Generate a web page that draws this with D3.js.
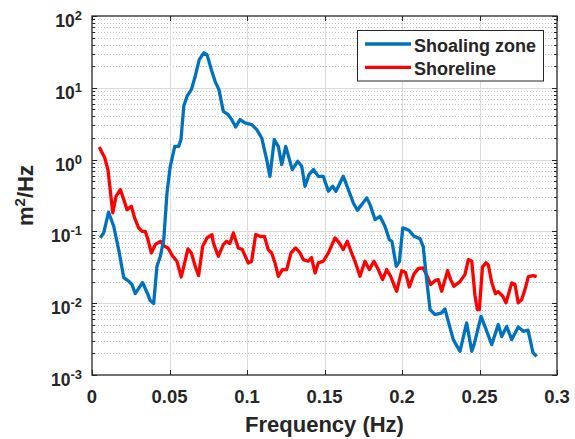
<!DOCTYPE html>
<html lang="en">
<head>
    <meta charset="UTF-8"/>
    <title>Spectra</title>
    <style>
        body { margin: 0; background: #fff; }
        text { font-family: "Liberation Sans", Arial, sans-serif; font-weight: bold; fill: #262626; }
    </style>
</head>
<body>
<svg id="chart" width="575" height="439"></svg>

<script src="https://cdn.jsdelivr.net/npm/d3@7"></script>
<script type="text/javascript">

    // spectra (Hz, m^2/Hz)
    var shoalFreq = [0.0054, 0.0076, 0.0107, 0.0140, 0.0172, 0.0205, 0.0237, 0.0258, 0.0279, 0.0326,
        0.0355, 0.0376, 0.0398, 0.0419, 0.0441, 0.0463, 0.0484, 0.0505, 0.0534, 0.0559,
        0.0574, 0.0592, 0.0613, 0.0641, 0.0666, 0.0692, 0.0721, 0.0742, 0.0770, 0.0794,
        0.0819, 0.0847, 0.0879, 0.0901, 0.0927, 0.0955, 0.0987, 0.1030, 0.1063, 0.1095,
        0.1127, 0.1148, 0.1176, 0.1202, 0.1224, 0.1250, 0.1292, 0.1327, 0.1353, 0.1374,
        0.1400, 0.1428, 0.1460, 0.1492, 0.1525, 0.1553, 0.1574, 0.1621, 0.1654, 0.1686,
        0.1712, 0.1740, 0.1772, 0.1794, 0.1826, 0.1858, 0.1890, 0.1918, 0.1935, 0.1963,
        0.1983, 0.2005, 0.2045, 0.2077, 0.2116, 0.2137, 0.2159, 0.2181, 0.2213, 0.2256,
        0.2277, 0.2299, 0.2331, 0.2374, 0.2417, 0.2450, 0.2465, 0.2510, 0.2535, 0.2579,
        0.2621, 0.2643, 0.2675, 0.2708, 0.2750, 0.2783, 0.2813, 0.2845, 0.2869];
    var shoalPsd = [0.081, 0.096, 0.185, 0.118, 0.0558, 0.0227, 0.0202, 0.0182, 0.0136, 0.0194,
        0.0141, 0.0109, 0.0099, 0.0327, 0.045, 0.0769, 0.347, 0.807, 1.53, 1.53,
        1.90, 5.52, 7.62, 9.44, 14.5, 24.7, 30.6, 29.0, 17.9, 12.3,
        9.44, 4.71, 4.24, 3.61, 2.85, 3.61, 3.24, 3.07, 2.62, 2.00,
        1.00, 0.585, 1.90, 1.53, 0.852, 1.53, 0.726, 0.947, 0.807, 0.425,
        0.618, 0.726, 0.585, 0.585, 0.362, 0.425, 0.362, 0.585, 0.382, 0.249,
        0.197, 0.236, 0.293, 0.236, 0.146, 0.162, 0.118, 0.0769, 0.0728, 0.0327,
        0.0380, 0.112, 0.104, 0.0855, 0.0794, 0.0614, 0.0213, 0.00815, 0.00694, 0.00733,
        0.00833, 0.00554, 0.00311, 0.00214, 0.00532, 0.00214, 0.00265, 0.00656, 0.00476, 0.00265,
        0.00504, 0.00343, 0.00476, 0.00311, 0.00468, 0.00406, 0.00422, 0.00205, 0.00182];

    var shoreFreq = [0.0047, 0.0082, 0.0103, 0.0134, 0.0155, 0.0183, 0.0205, 0.0226, 0.0254, 0.0275,
        0.0301, 0.0323, 0.0344, 0.0361, 0.0383, 0.0408, 0.0441, 0.0469, 0.0490, 0.0521,
        0.0548, 0.0576, 0.0619, 0.0641, 0.0666, 0.0688, 0.0714, 0.0742, 0.0774, 0.0783,
        0.0815, 0.0847, 0.0869, 0.0890, 0.0912, 0.0944, 0.0970, 0.1008, 0.1030, 0.1056,
        0.1084, 0.1112, 0.1137, 0.1159, 0.1181, 0.1202, 0.1228, 0.1256, 0.1284, 0.1314,
        0.1342, 0.1363, 0.1395, 0.1416, 0.1439, 0.1460, 0.1492, 0.1525, 0.1568, 0.1595,
        0.1621, 0.1647, 0.1675, 0.1697, 0.1729, 0.1761, 0.1789, 0.1819, 0.1847, 0.1875,
        0.1901, 0.1927, 0.1955, 0.1966, 0.1998, 0.2023, 0.2047, 0.2077, 0.2105, 0.2137,
        0.2163, 0.2185, 0.2213, 0.2234, 0.2256, 0.2294, 0.2314, 0.2335, 0.2374, 0.2406,
        0.2428, 0.2450, 0.2471, 0.2486, 0.2499, 0.2519, 0.2542, 0.2557, 0.2579, 0.2603,
        0.2621, 0.2650, 0.2671, 0.2708, 0.2729, 0.2750, 0.2772, 0.2797, 0.2815, 0.2847,
        0.2869];
    var shorePsd = [1.50, 1.06, 0.726, 0.181, 0.308, 0.382, 0.277, 0.201, 0.224, 0.154,
        0.112, 0.100, 0.100, 0.0769, 0.0501, 0.0655, 0.0728, 0.0620, 0.0589, 0.0450,
        0.0384, 0.0232, 0.0570, 0.0501, 0.0327, 0.0242, 0.0620, 0.0811, 0.0902, 0.0692,
        0.0450, 0.0655, 0.0728, 0.0676, 0.0953, 0.0589, 0.0558, 0.0364, 0.0384, 0.0902,
        0.0855, 0.0855, 0.0558, 0.0501, 0.0364, 0.0237, 0.0294, 0.0294, 0.0501, 0.0589,
        0.0501, 0.0405, 0.0384, 0.0432, 0.0264, 0.0364, 0.0384, 0.0501, 0.0811, 0.0692,
        0.0558, 0.0728, 0.0501, 0.0380, 0.0237, 0.0384, 0.0294, 0.0384, 0.0294, 0.0213,
        0.0294, 0.0237, 0.0165, 0.0147, 0.0284, 0.0267, 0.0168, 0.0254, 0.0303, 0.0310,
        0.0237, 0.0182, 0.0206, 0.0213, 0.0147, 0.0284, 0.0213, 0.0172, 0.0200, 0.0250,
        0.0405, 0.0384, 0.0128, 0.00815, 0.00815, 0.0318, 0.0367, 0.0340, 0.0194, 0.0136,
        0.0145, 0.0125, 0.0101, 0.0192, 0.0182, 0.0101, 0.0112, 0.0165, 0.0235, 0.0242,
        0.0235];

    var xTicks = [0, 0.05, 0.1, 0.15, 0.2, 0.25, 0.3];
    var xTickLabels = ["0", "0.05", "0.1", "0.15", "0.2", "0.25", "0.3"];
    var yExponents = [-3, -2, -1, 0, 1, 2];
    var seriesNames = ["Shoaling zone", "Shoreline"];
    var seriesColors = ["#0072BD", "#FF0000"];

    let svg = d3.select("#chart"),
        pLeft = 92, pRight = 557, pTop = 16, pBottom = 375;

    let x = d3.scaleLinear().domain([0, 0.3]).range([pLeft, pRight]);
    let y = d3.scaleLog().domain([1e-3, 1e2]).range([pBottom, pTop]);

    // minor decades 2..9
    var minor = [];
    yExponents.slice(0, -1).forEach(function (e) {
        for (var k = 2; k <= 9; k++) minor.push(k * Math.pow(10, e));
    });

    var grid = svg.append("g");
    grid.selectAll(".minor").data(minor).enter().append("line")
        .attr("x1", pLeft).attr("x2", pRight)
        .attr("y1", d => Math.round(y(d)) + 0.5).attr("y2", d => Math.round(y(d)) + 0.5)
        .style("stroke", "#c4c4c4").style("stroke-dasharray", "1,2");
    grid.selectAll(".hmaj").data(yExponents.slice(1, -1)).enter().append("line")
        .attr("x1", pLeft).attr("x2", pRight)
        .attr("y1", d => Math.round(y(Math.pow(10, d))) + 0.5).attr("y2", d => Math.round(y(Math.pow(10, d))) + 0.5)
        .style("stroke", "#dcdcdc");
    grid.selectAll(".vmaj").data(xTicks.slice(1, -1)).enter().append("line")
        .attr("x1", d => Math.round(x(d)) + 0.5).attr("x2", d => Math.round(x(d)) + 0.5)
        .attr("y1", pTop).attr("y2", pBottom)
        .style("stroke", "#dcdcdc");

    // curves, shoreline first so the blue sits on top
    var line = d3.line().x(d => x(d[0])).y(d => y(d[1]));
    var series = [d3.zip(shoalFreq, shoalPsd), d3.zip(shoreFreq, shorePsd)];
    svg.append("g").selectAll("path")
        .data([1, 0])
        .enter().append("path")
        .attr("d", i => line(series[i]))
        .style("fill", "none")
        .style("stroke", i => seriesColors[i])
        .style("stroke-width", 3.3)
        .style("stroke-linejoin", "round");

    // axes box and ticks
    var ax = svg.append("g").style("stroke", "#262626");
    ax.append("rect")
        .attr("x", pLeft).attr("y", pTop)
        .attr("width", pRight - pLeft).attr("height", pBottom - pTop)
        .style("fill", "none").style("stroke-width", 1.3);
    xTicks.forEach(function (t) {
        var px = Math.round(x(t)) + 0.5;
        ax.append("line").attr("x1", px).attr("x2", px).attr("y1", pBottom).attr("y2", pBottom - 5);
        ax.append("line").attr("x1", px).attr("x2", px).attr("y1", pTop).attr("y2", pTop + 5);
    });
    yExponents.forEach(function (e) {
        var py = Math.round(y(Math.pow(10, e))) + 0.5;
        ax.append("line").attr("x1", pLeft).attr("x2", pLeft + 5).attr("y1", py).attr("y2", py);
        ax.append("line").attr("x1", pRight).attr("x2", pRight - 5).attr("y1", py).attr("y2", py);
    });
    minor.forEach(function (m) {
        var py = Math.round(y(m)) + 0.5;
        ax.append("line").attr("x1", pLeft).attr("x2", pLeft + 3).attr("y1", py).attr("y2", py);
        ax.append("line").attr("x1", pRight).attr("x2", pRight - 3).attr("y1", py).attr("y2", py);
    });

    // tick labels
    svg.append("g").selectAll("text")
        .data(xTicks).enter().append("text")
        .attr("x", d => x(d)).attr("y", 403)
        .attr("text-anchor", "middle")
        .style("font-size", "18.5px")
        .text((d, i) => xTickLabels[i]);

    var yl = svg.append("g").selectAll("text")
        .data(yExponents).enter().append("text")
        .attr("x", 82).attr("y", d => y(Math.pow(10, d)) + 11)
        .attr("text-anchor", "end")
        .style("font-size", "17.5px");
    yl.append("tspan").text("10");
    yl.append("tspan").attr("dy", -7).style("font-size", "13px").text(d => d < 0 ? "-" + (-d) : d);

    // axis titles
    svg.append("text")
        .attr("x", (pLeft + pRight) / 2).attr("y", 432)
        .attr("text-anchor", "middle")
        .style("font-size", "22px")
        .text("Frequency (Hz)");
    var yt = svg.append("text")
        .attr("transform", "translate(33," + (pTop + pBottom) / 2 + ") rotate(-90)")
        .attr("text-anchor", "middle")
        .style("font-size", "22px");
    yt.append("tspan").text("m");
    yt.append("tspan").attr("dy", -8).style("font-size", "15px").text("2");
    yt.append("tspan").attr("dy", 8).text("/Hz");

    // legend
    var lg = svg.append("g");
    lg.append("rect")
        .attr("x", 357.5).attr("y", 30.5).attr("width", 186).attr("height", 50.5)
        .style("fill", "#fff").style("stroke", "#262626").style("stroke-width", 1);
    seriesNames.forEach(function (name, i) {
        var ly = 44 + i * 23.3;
        lg.append("line")
            .attr("x1", 365).attr("x2", 411).attr("y1", ly).attr("y2", ly)
            .style("stroke", seriesColors[i]).style("stroke-width", 3.3);
        lg.append("text")
            .attr("x", 414).attr("y", ly + 7.5)
            .style("font-size", "18px")
            .text(name);
    });
</script>
</body>
</html>
